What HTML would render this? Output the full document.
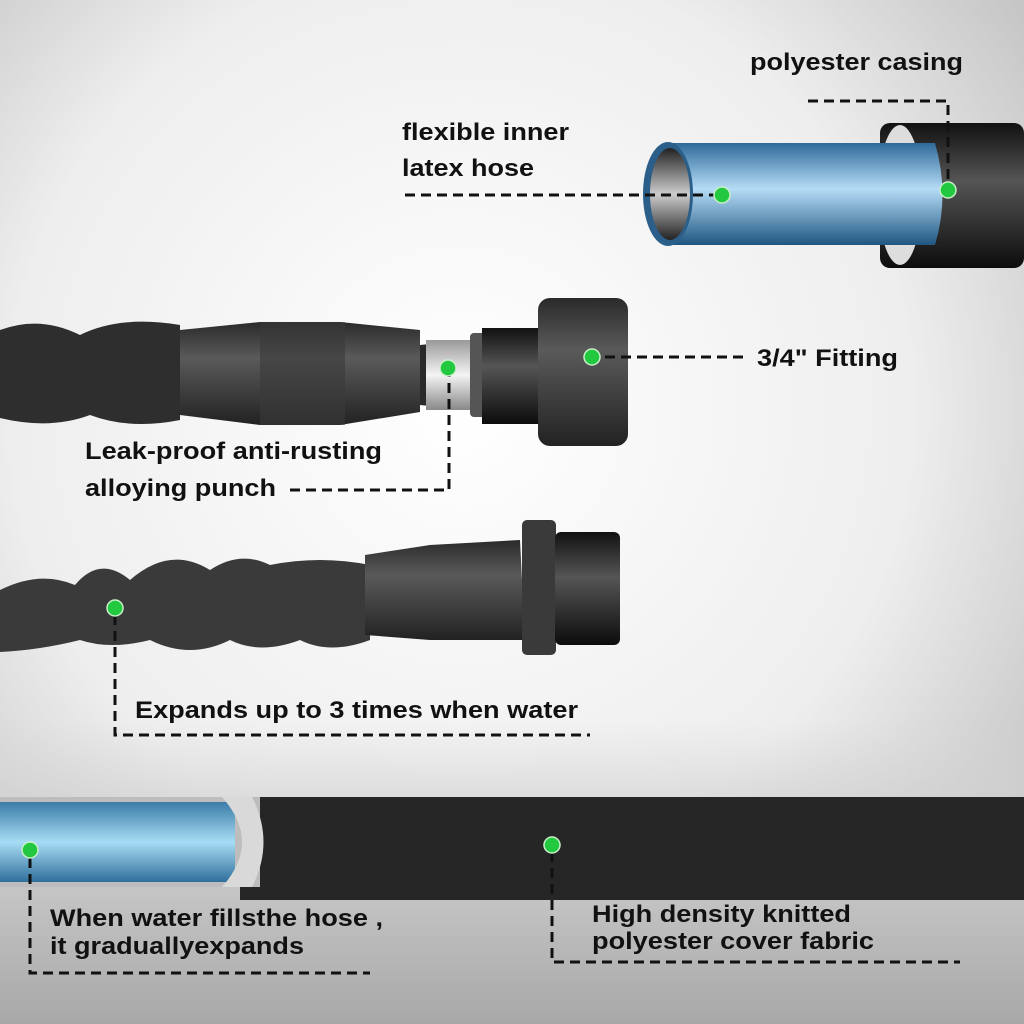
<!DOCTYPE html>
<html><head><meta charset="utf-8"><style>
html,body{margin:0;padding:0;width:1024px;height:1024px;overflow:hidden}
text{font-family:"Liberation Sans",Arial,sans-serif;font-weight:bold;font-size:24px;fill:#111}
</style></head><body>
<svg width="1024" height="1024" viewBox="0 0 1024 1024" xmlns="http://www.w3.org/2000/svg">
<defs>
<radialGradient id="bg" cx="0.45" cy="0.4" r="0.8">
<stop offset="0" stop-color="#ffffff"/><stop offset="0.55" stop-color="#eeeeee"/><stop offset="1" stop-color="#b0b0b0"/>
</radialGradient>
<linearGradient id="blue" x1="0" y1="0" x2="0" y2="1">
<stop offset="0" stop-color="#2f6a9a"/><stop offset="0.45" stop-color="#b5dcf6"/><stop offset="1" stop-color="#1f5680"/>
</linearGradient>
<linearGradient id="black" x1="0" y1="0" x2="0" y2="1">
<stop offset="0" stop-color="#111"/><stop offset="0.4" stop-color="#555"/><stop offset="1" stop-color="#0c0c0c"/>
</linearGradient>
<linearGradient id="gray" x1="0" y1="0" x2="0" y2="1">
<stop offset="0" stop-color="#2a2a2a"/><stop offset="0.35" stop-color="#5a5a5a"/><stop offset="1" stop-color="#222"/>
</linearGradient>
<linearGradient id="inner" x1="0" y1="0" x2="0" y2="1">
<stop offset="0" stop-color="#222"/><stop offset="0.5" stop-color="#ccc"/><stop offset="1" stop-color="#222"/>
</linearGradient>
<linearGradient id="water" x1="0" y1="0" x2="0" y2="1">
<stop offset="0" stop-color="#3a7ca8"/><stop offset="0.5" stop-color="#a8dcf5"/><stop offset="1" stop-color="#2f6f9c"/>
</linearGradient>
<linearGradient id="silver" x1="0" y1="0" x2="0" y2="1">
<stop offset="0" stop-color="#999"/><stop offset="0.5" stop-color="#f4f4f4"/><stop offset="1" stop-color="#888"/>
</linearGradient>
<linearGradient id="bot" x1="0" y1="0" x2="0" y2="1">
<stop offset="0" stop-color="#d8d8d8" stop-opacity="0"/><stop offset="0.4" stop-color="#cfcfcf"/><stop offset="1" stop-color="#a8a8a8"/>
</linearGradient>
</defs>
<rect width="1024" height="1024" fill="url(#bg)"/>
<rect y="720" width="1024" height="304" fill="url(#bot)"/>

<!-- top tube -->
<rect x="880" y="123" width="144" height="145" rx="10" fill="url(#black)"/>
<ellipse cx="900" cy="195" rx="22" ry="70" fill="#ddd"/>
<path d="M668 143 L935 143 Q950 195 935 245 L668 245 Z" fill="url(#blue)"/>
<ellipse cx="668" cy="194" rx="25" ry="52" fill="#2b5f8a"/>
<ellipse cx="670" cy="194" rx="20" ry="46" fill="url(#inner)"/>

<!-- middle hose -->
<path d="M0 330 Q40 315 80 335 Q120 315 180 325 L180 420 Q130 430 90 415 Q50 430 0 418 Z" fill="#2e2e2e"/>
<path d="M180 330 L260 322 L340 322 L420 330 L420 412 L340 425 L260 425 L180 415 Z" fill="url(#gray)"/>
<rect x="260" y="322" width="85" height="103" fill="#3a3a3a" opacity="0.6"/>
<path d="M420 345 L470 340 L470 410 L420 405 Z" fill="#2a2a2a"/>
<rect x="426" y="340" width="45" height="70" fill="url(#silver)"/>
<rect x="470" y="333" width="18" height="84" rx="4" fill="#555"/>
<rect x="482" y="328" width="60" height="96" fill="url(#black)"/>
<rect x="538" y="298" width="90" height="148" rx="12" fill="url(#gray)"/>

<!-- second hose -->
<path d="M0 590 Q40 570 75 585 Q100 555 130 580 Q170 545 210 570 Q240 550 270 565 Q320 555 370 565 L370 640 Q330 655 300 640 Q260 655 230 640 Q190 660 150 640 Q110 650 80 640 Q40 650 0 652 Z" fill="#3a3a3a"/>
<path d="M365 555 L430 545 L520 540 L525 640 L430 640 L365 635 Z" fill="url(#gray)"/>
<rect x="522" y="520" width="34" height="135" rx="5" fill="#3a3a3a"/>
<rect x="555" y="532" width="65" height="113" rx="6" fill="url(#black)"/>

<!-- bottom hose -->
<rect x="240" y="797" width="784" height="103" fill="#262626"/>
<rect x="0" y="797" width="260" height="90" fill="#bdbdbd"/>
<rect x="0" y="802" width="235" height="80" fill="url(#water)"/>
<path d="M222 797 Q262 842 222 887 L252 887 Q275 842 252 797 Z" fill="#d9d9d9"/>

<!-- dashed leaders -->
<g stroke="#111" stroke-width="3" fill="none" stroke-dasharray="10,6">
<polyline points="808,101 948,101 948,190"/>
<line x1="405" y1="195" x2="722" y2="195"/>
<line x1="605" y1="357" x2="745" y2="357"/>
<polyline points="290,490 449,490 449,375"/>
<polyline points="115,615 115,735 590,735"/>
<polyline points="30,858 30,973 370,973"/>
<polyline points="552,852 552,962 960,962"/>
</g>
<g fill="#22c840" stroke="#c8f0c8" stroke-width="1.5">
<circle cx="948" cy="190" r="8"/><circle cx="722" cy="195" r="8"/>
<circle cx="448" cy="368" r="8"/><circle cx="592" cy="357" r="8"/>
<circle cx="115" cy="608" r="8"/><circle cx="30" cy="850" r="8"/>
<circle cx="552" cy="845" r="8"/>
</g>

<text x="750" y="70" textLength="213" lengthAdjust="spacingAndGlyphs">polyester casing</text>
<text x="402" y="140" textLength="167" lengthAdjust="spacingAndGlyphs">flexible inner</text>
<text x="402" y="176" textLength="132" lengthAdjust="spacingAndGlyphs">latex hose</text>
<text x="757" y="366" textLength="141" lengthAdjust="spacingAndGlyphs">3/4" Fitting</text>
<text x="85" y="459" textLength="297" lengthAdjust="spacingAndGlyphs">Leak-proof anti-rusting</text>
<text x="85" y="496" textLength="191" lengthAdjust="spacingAndGlyphs">alloying punch</text>
<text x="135" y="718" textLength="443" lengthAdjust="spacingAndGlyphs">Expands up to 3 times when water</text>
<text x="50" y="926" textLength="333" lengthAdjust="spacingAndGlyphs">When water fillsthe hose ,</text>
<text x="50" y="954" textLength="254" lengthAdjust="spacingAndGlyphs">it graduallyexpands</text>
<text x="592" y="922" textLength="259" lengthAdjust="spacingAndGlyphs">High density knitted</text>
<text x="592" y="949" textLength="282" lengthAdjust="spacingAndGlyphs">polyester cover fabric</text>
</svg>
</body></html>
